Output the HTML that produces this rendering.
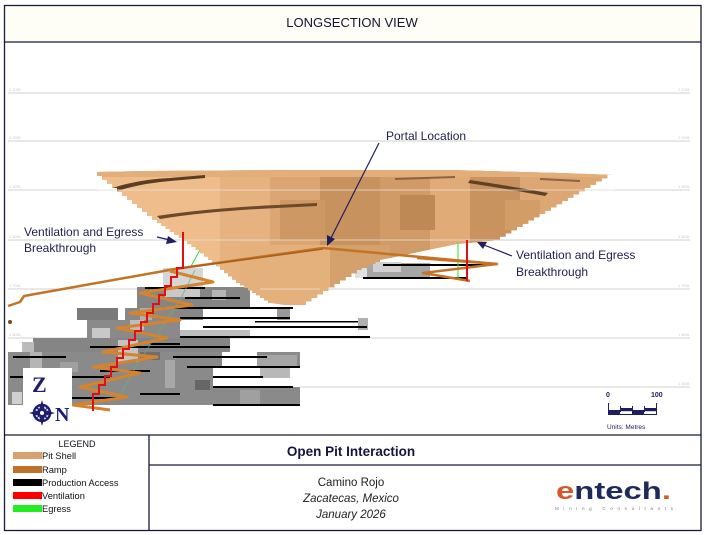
<!DOCTYPE html>
<html><head><meta charset="utf-8"><style>
html,body{margin:0;padding:0;background:#fff;}
svg{display:block;}
.s{font-family:"Liberation Sans",sans-serif;}
.serif{font-family:"Liberation Serif",serif;}
</style></head><body>
<svg width="705" height="535" viewBox="0 0 705 535" xmlns="http://www.w3.org/2000/svg">
<defs>
<clipPath id="pitclip"><path d="M97,172 v4h5v4h5v4h5v4h5v4h5v4h5v4h5v4h5v4h5v4h5v4h5v4h5 v3h4.3v3h4.3v3h4.3v3h4.3v3h4.3v3h4.3v3h4.3v3h4.3v3h4.3v3h4.3 v3.3h4v3.3h4v3.3h4v3.3h4v3.3h4v3.3h4v3.3h4v3.3h4v3.3h4v3.3h4 v2.5h4v2.5h4v2.5h4v2.5h4v2.5h4v2.5h4v2.5h4v2.5h4 L285,305 L300,305 h5.7v-3.5h5.7v-3.5h5.7v-3.5h5.7v-3.5h5.7v-3.5h5.7v-3.5h5.7v-3.5h5.7v-3.5h5.7v-3.5h5.7v-3.5 h4.6v-2h4.6v-2h4.6v-2h4.6v-2h4.6v-2 L400,256 L423,251 L457,244 L500,240 v-3.25h5.65v-3.25h5.65v-3.25h5.65v-3.25h5.65v-3.25h5.65v-3.25h5.65v-3.25h5.65v-3.25h5.65v-3.25h5.65v-3.25h5.65v-3.25h5.65v-3.25h5.65v-3.25h5.65v-3.25h5.65v-3.25h5.65v-3.25h5.65v-3.25h5.65v-3.25h5.65v-3.25h5.65v-3.25h5.65 L560,173 L450,170 L300,170 L150,171 Z"/></clipPath>
</defs>
<rect width="705" height="535" fill="#fff"/>
<rect x="4" y="5" width="697" height="37" fill="#fffef6"/>

<!-- grid lines -->
<g stroke="#d2d2d2" stroke-width="1">
<line x1="8" y1="93" x2="690" y2="93"/>
<line x1="8" y1="141" x2="690" y2="141"/>
<line x1="8" y1="190" x2="690" y2="190"/>
<line x1="8" y1="240" x2="690" y2="240"/>
<line x1="8" y1="289" x2="690" y2="289"/>
<line x1="8" y1="338" x2="690" y2="338"/>
<line x1="8" y1="387" x2="690" y2="387"/>
</g>
<g fill="#c8c8c8" font-size="4" class="s">
<text x="9" y="91">2 100L</text><text x="678" y="91">2 100L</text>
<text x="9" y="139">2 000L</text><text x="678" y="139">2 000L</text>
<text x="9" y="188">1 900L</text><text x="678" y="188">1 900L</text>
<text x="9" y="238">1 800L</text><text x="678" y="238">1 800L</text>
<text x="9" y="287">1 700L</text><text x="678" y="287">1 700L</text>
<text x="9" y="336">1 600L</text><text x="678" y="336">1 600L</text>
<text x="9" y="385">1 500L</text><text x="678" y="385">1 500L</text>
</g>

<!-- underground gray blocks -->
<g>
<rect x="163" y="268" width="40" height="19" fill="#d6d6d6"/>
<rect x="137" y="287" width="113" height="21" fill="#858585"/>
<rect x="165" y="287" width="35" height="10" fill="#c8c8c8"/>
<rect x="212" y="290" width="14" height="10" fill="#b5b5b5"/>
<rect x="77" y="308" width="41" height="12" fill="#7a7a7a"/>
<rect x="125" y="308" width="78" height="12" fill="#888"/>
<rect x="140" y="308" width="12" height="12" fill="#b0b0b0"/>
<rect x="277" y="308" width="13" height="12" fill="#9a9a9a"/>
<rect x="87" y="320" width="93" height="18" fill="#8a8a8a"/>
<rect x="92" y="328" width="18" height="10" fill="#c8c8c8"/>
<rect x="130" y="320" width="14" height="10" fill="#bdbdbd"/>
<rect x="180" y="330" width="70" height="8" fill="#bebebe"/>
<rect x="358" y="318" width="10" height="12" fill="#b0b0b0"/>
<rect x="33" y="338" width="197" height="14" fill="#858585"/>
<rect x="8" y="352" width="292" height="53" fill="#8a8a8a"/>
<rect x="222" y="352" width="35" height="16" fill="#fff"/>
<rect x="257" y="355" width="40" height="13" fill="#a5a5a5"/>
<rect x="213" y="368" width="47" height="19" fill="#fff"/>
<rect x="260" y="368" width="30" height="10" fill="#b8b8b8"/>
<rect x="290" y="368" width="10" height="19" fill="#fff"/>
<rect x="260" y="378" width="30" height="9" fill="#fff"/>
<rect x="22" y="342" width="12" height="10" fill="#bbb"/>
<rect x="30" y="352" width="12" height="45" fill="#b5b5b5"/>
<rect x="12" y="392" width="10" height="12" fill="#d0d0d0"/>
<rect x="118" y="340" width="20" height="22" fill="#c4c4c4"/>
<rect x="165" y="360" width="10" height="28" fill="#a8a8a8"/>
<rect x="60" y="362" width="18" height="10" fill="#a0a0a0"/>
<rect x="195" y="380" width="15" height="10" fill="#666"/>
<rect x="140" y="352" width="20" height="8" fill="#6e6e6e"/>
<rect x="240" y="390" width="20" height="14" fill="#a0a0a0"/>
<!-- right-hand gray under pit -->
<rect x="355" y="263" width="75" height="14" fill="#a6a6a6"/>
<rect x="373" y="262" width="28" height="10" fill="#d0d0d0"/>
<rect x="355" y="268" width="12" height="10" fill="#e0e0e0"/>
</g>
<!-- production access black lines -->
<g fill="#000">
<rect x="185" y="297" width="55" height="2"/>
<rect x="163" y="307" width="130" height="2"/>
<rect x="180" y="317" width="110" height="2"/>
<rect x="255" y="321" width="103" height="1.5"/>
<rect x="203" y="326" width="164" height="2"/>
<rect x="180" y="336" width="190" height="2"/>
<rect x="90" y="346" width="140" height="2"/>
<rect x="13" y="356" width="53" height="2"/>
<rect x="173" y="356" width="94" height="2"/>
<rect x="187" y="366" width="113" height="2"/>
<rect x="10" y="376" width="100" height="2"/>
<rect x="213" y="376" width="50" height="2"/>
<rect x="213" y="386" width="80" height="2"/>
<rect x="213" y="404" width="87" height="2"/>
<rect x="100" y="370" width="50" height="2"/>
<rect x="40" y="384" width="30" height="2"/>
<rect x="150" y="343" width="30" height="2"/>
<rect x="60" y="397" width="60" height="2"/>
<rect x="140" y="393" width="40" height="2"/>
<rect x="145" y="287" width="60" height="2"/>
<rect x="383" y="264" width="104" height="2"/>
<rect x="363" y="277" width="104" height="2"/>
</g>

<!-- pit shell -->
<g clip-path="url(#pitclip)">
<rect x="90" y="165" width="530" height="145" fill="#d9a46f"/>
<rect x="90" y="165" width="130" height="145" fill="#efbd8b"/>
<rect x="220" y="165" width="50" height="145" fill="#e6b380"/>
<rect x="270" y="165" width="50" height="145" fill="#dba672"/>
<rect x="320" y="165" width="60" height="145" fill="#c7925e"/>
<rect x="380" y="165" width="50" height="145" fill="#d09b66"/>
<rect x="430" y="165" width="40" height="145" fill="#e0ab77"/>
<rect x="470" y="165" width="50" height="145" fill="#c9935f"/>
<rect x="520" y="165" width="100" height="145" fill="#dca773"/>
<rect x="240" y="245" width="90" height="65" fill="#e4b07c"/>
<rect x="330" y="245" width="60" height="65" fill="#d4a06b"/>
<rect x="90" y="165" width="530" height="12" fill="#e2ae7a"/>
<rect x="280" y="200" width="45" height="40" fill="#cd9863"/>
<rect x="400" y="195" width="35" height="35" fill="#bf8955"/>
<rect x="505" y="200" width="35" height="30" fill="#d39d68"/>
<path d="M102,192 Q130,180 170,178 L205,175 L205,178 L170,181 Q135,184 108,194 Z" fill="#5a3d22"/>
<path d="M157,216 Q210,208 277,205 L317,203 L317,206 L277,208 Q210,211 160,219 Z" fill="#6b4a2b"/>
<path d="M470,180 Q510,186 548,193 L545,196 Q508,189 468,183 Z" fill="#5e4127"/>
<path d="M395,178 L455,176 L455,178 L395,180 Z" fill="#8a6440"/>
<path d="M540,178 L580,180 L580,182 L540,180 Z" fill="#8a6440"/>
</g>
<g stroke="#ece6de" stroke-width="1" opacity="0.7">
<line x1="97" y1="190" x2="615" y2="190"/>
<line x1="180" y1="240" x2="500" y2="240"/>
<line x1="260" y1="289" x2="320" y2="289"/>
</g>

<!-- green egress -->
<g stroke="#33dd33" stroke-width="1" fill="none">
<line x1="200" y1="250" x2="190" y2="268"/>
<line x1="458" y1="243" x2="458" y2="279"/>
<path d="M195,270 L180,300 L160,330 L140,360 L120,395" stroke="#5cb58a" opacity="0.7"/>
</g>

<!-- ramp -->
<g fill="none" stroke="#c47224" stroke-width="2.5" stroke-linejoin="round">
<path d="M8,306 L20,302 L24,296 L175,269 L323,248 L497,264 L423,273 L470,281"/>
<path d="M417,258 L497,264"/>
<path d="M175,269 L323,249" stroke-width="1.5" stroke="#a9601c"/>
</g>
<g fill="none" stroke="#d4832f" stroke-width="3" stroke-linejoin="round">
<path d="M170,271 L213,282 L140,293 L192,305 L130,313 L180,320 L117,328 L167,338 L103,352 L157,357 L93,367 L140,373 L80,387 L127,397 L73,405 L110,410"/>
</g>
<circle cx="10" cy="322" r="2" fill="#7a4a1a"/>

<!-- ventilation red -->
<g fill="none" stroke="#e01010" stroke-width="2">
<path d="M183,232 V268 h-6v9h-6v9h-6v9h-6v9h-6v9h-6v9h-6v9h-6v9h-6v9h-6v9h-6v9h-6v9h-6v9h-6v9h-6v9 v8"/>
<line x1="467" y1="240" x2="467" y2="281"/>
</g>

<!-- annotations -->
<g fill="#1f1f4f" stroke="none" class="s">
<text x="386" y="140" font-size="12">Portal Location</text>
<text x="24" y="236" font-size="12">Ventilation and Egress</text>
<text x="24" y="252" font-size="12">Breakthrough</text>
<text x="516" y="259" font-size="12">Ventilation and Egress</text>
<text x="516" y="276" font-size="12">Breakthrough</text>
</g>
<g stroke="#1f1f5f" stroke-width="1.2" fill="none">
<line x1="379" y1="143" x2="331" y2="238"/>
<line x1="157" y1="237" x2="170" y2="240"/>
<line x1="512" y1="256" x2="484" y2="245"/>
</g>
<g fill="#1f1f5f">
<polygon points="327,246 327,235 335,239"/>
<polygon points="177,242 168,236 166,244"/>
<polygon points="477,242 487,242 483,249"/>
</g>

<!-- compass box -->
<rect x="23" y="368" width="49" height="63" fill="#fff"/>
<text x="32" y="392" class="serif" font-weight="bold" font-size="22" fill="#1e1e6e">Z</text>
<g transform="translate(42,413)">
<circle r="8" fill="none" stroke="#1e1e6e" stroke-width="2.5"/>
<polygon points="0,-13 3,-3 13,0 3,3 0,13 -3,3 -13,0 -3,-3" fill="#1e1e6e"/>
<polygon points="-7,-7 1,-2 7,-7 2,0 7,7 -1,2 -7,7 -2,0" fill="#1e1e6e"/>
<circle r="2" fill="#fff"/>
</g>
<text x="55" y="421" class="serif" font-weight="bold" font-size="20" fill="#1e1e6e">N</text>

<!-- scale bar -->
<g fill="#1e1e5e" class="s">
<text x="606" y="397" font-size="7" font-weight="bold">0</text>
<text x="651" y="397" font-size="7" font-weight="bold">100</text>
<rect x="608" y="403" width="1" height="12"/>
<rect x="620" y="406" width="1" height="6"/>
<rect x="632" y="406" width="1" height="6"/>
<rect x="644" y="406" width="1" height="6"/>
<rect x="656" y="403" width="1" height="12"/>
<rect x="608" y="410" width="49" height="1.2"/>
<rect x="608" y="411" width="12" height="4"/>
<rect x="632" y="411" width="12" height="4"/>
<rect x="620" y="408" width="12" height="3"/>
<rect x="644" y="408" width="12" height="3"/>
<rect x="608" y="414" width="49" height="1"/>
<text x="607" y="429" font-size="6.5">Units: Metres</text>
</g>

<!-- frame -->
<g stroke="#1a1a3a" stroke-width="1.3" fill="none">
<rect x="4.5" y="5.5" width="696.5" height="525"/>
<line x1="4.5" y1="42" x2="701" y2="42"/>
<line x1="4.5" y1="435" x2="701" y2="435"/>
<line x1="149" y1="435" x2="149" y2="531"/>
<line x1="149" y1="465" x2="701" y2="465"/>
</g>

<text x="352" y="27" class="s" font-size="13" fill="#141433" text-anchor="middle">LONGSECTION VIEW</text>

<!-- legend -->
<text x="77" y="447" class="s" font-size="9" fill="#111" text-anchor="middle">LEGEND</text>
<rect x="13" y="452" width="29" height="7" fill="#d9a070"/>
<rect x="13" y="466" width="29" height="7" fill="#c0722a"/>
<rect x="13" y="479" width="29" height="7" fill="#000"/>
<rect x="13" y="492" width="29" height="7" fill="#ff0000"/>
<rect x="13" y="505" width="29" height="7" fill="#22ee22"/>
<g font-size="9.3" fill="#111" class="s">
<text x="42" y="459">Pit Shell</text>
<text x="42" y="473">Ramp</text>
<text x="42" y="486">Production Access</text>
<text x="42" y="499">Ventilation</text>
<text x="42" y="512">Egress</text>
</g>

<text x="351" y="456" class="s" font-size="13.5" font-weight="bold" fill="#141440" text-anchor="middle">Open Pit Interaction</text>
<text x="351" y="486" class="s" font-size="11.5" fill="#222" text-anchor="middle">Camino Rojo</text>
<text x="351" y="502" class="s" font-size="11.5" font-style="italic" fill="#222" text-anchor="middle">Zacatecas, Mexico</text>
<text x="351" y="518" class="s" font-size="11.5" font-style="italic" fill="#222" text-anchor="middle">January 2026</text>

<!-- logo -->
<text x="556" y="499" class="s" font-size="24" font-weight="bold" textLength="115" lengthAdjust="spacingAndGlyphs"><tspan fill="#d4592b">e</tspan><tspan fill="#1e2a5a">ntech</tspan><tspan fill="#d4592b">.</tspan></text>
<text x="555" y="510" class="s" font-size="4.5" fill="#777" textLength="118" lengthAdjust="spacing">Mining Consultants</text>
</svg>
</body></html>
